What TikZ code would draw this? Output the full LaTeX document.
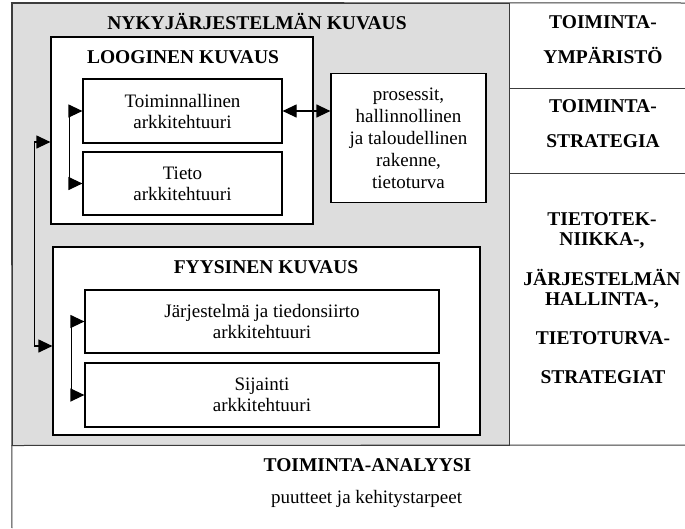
\documentclass[tikz,border=0pt]{standalone}
\usepackage{fontspec}
\setmainfont{Liberation Serif}
\usetikzlibrary{arrows.meta}
\definecolor{bggray}{RGB}{221,221,221}
\definecolor{framec}{RGB}{60,60,60}
\begin{document}
\begin{tikzpicture}[x=1pt,y=-1pt,
  boxst/.style={draw=black, line width=1.2pt, fill=white, inner sep=0pt, align=center, font=\fontsize{19}{21}\selectfont},
  ttl/.style={anchor=base, inner sep=0pt, font=\fontsize{19.5}{21}\selectfont\bfseries},
  plaintxt/.style={anchor=base, inner sep=0pt, font=\fontsize{19}{21}\selectfont},
  conn/.style={line width=1.2pt, draw=black},
  dbl/.style={{Triangle[length=14pt,width=13pt]}-{Triangle[length=14pt,width=13pt]}},
  framest/.style={draw=framec, line width=1pt}
]
\useasboundingbox (0,0) rectangle (685,528);
\fill[white] (0,0) rectangle (685,528);

% grey region
\node[framest, fill=bggray, minimum width=497pt, minimum height=442pt, inner sep=0pt] (nyky) at (260.5,224) {};
% frame lines
\draw[framest] (12,528) -- (nyky.north west) -- (685,3);
\draw[framest] (nyky.south west) -- (685,445);
\draw[framest] (nyky.north east |- 0,88) -- (685,88);
\draw[framest] (nyky.north east |- 0,173) -- (685,173);

\node[ttl] (tnyky) at (257,29) {NYKYJÄRJESTELMÄN KUVAUS};

% logical
\node[boxst, minimum width=262pt, minimum height=187pt] (loog) at (182,130.5) {};
\node[ttl] (tloog) at (183,63) {LOOGINEN KUVAUS};
\node[boxst, minimum width=199pt, minimum height=64pt] (toim) at (182.5,111) {Toiminnallinen\\arkkitehtuuri};
\node[boxst, minimum width=199pt, minimum height=63pt] (tieto) at (182.5,183.5) {Tieto\\arkkitehtuuri};
\node[boxst, minimum width=155pt, minimum height=129pt, font=\fontsize{19}{22}\selectfont] (pros) at (408.5,138) {prosessit,\\hallinnollinen\\ja taloudellinen\\rakenne,\\tietoturva};

% physical
\node[boxst, minimum width=427pt, minimum height=188pt] (fyys) at (266.5,341) {};
\node[ttl] (tfyys) at (266,273) {FYYSINEN KUVAUS};
\node[boxst, minimum width=354pt, minimum height=63pt] (jarj) at (262,321.5) {Järjestelmä ja tiedonsiirto\\arkkitehtuuri};
\node[boxst, minimum width=354pt, minimum height=64pt] (sij) at (262,395) {Sijainti\\arkkitehtuuri};

% connectors
\draw[conn, dbl] (toim.west) -- ++(-13,0) |- (tieto.west);
\draw[conn, dbl] (jarj.west) -- ++(-13,0) |- (sij.west);
\draw[conn, dbl] (toim.east) -- (toim.east -| pros.west);
\draw[conn, dbl] ([yshift=-11.5pt]loog.west) -- ++(-16,0) |- ([yshift=-5pt]fyys.west);

% right column
\node[ttl] (r1a) at (603,28) {TOIMINTA-};
\node[ttl] (r1b) at (603,63) {YMPÄRISTÖ};
\node[ttl] (r2a) at (603,112) {TOIMINTA-};
\node[ttl] (r2b) at (603,147) {STRATEGIA};
\node[ttl] (r3a) at (602,225) {TIETOTEK-};
\node[ttl] (r3b) at (602,245) {NIIKKA-,};
\node[ttl] (r3c) at (602,285) {JÄRJESTELMÄN};
\node[ttl] (r3d) at (602,305) {HALLINTA-,};
\node[ttl] (r3e) at (603,344) {TIETOTURVA-};
\node[ttl] (r3f) at (603,383) {STRATEGIAT};

% bottom
\node[ttl] (ta) at (367.5,471) {TOIMINTA-ANALYYSI};
\node[plaintxt] (tb) at (366.5,503) {puutteet ja kehitystarpeet};
\end{tikzpicture}
\end{document}
